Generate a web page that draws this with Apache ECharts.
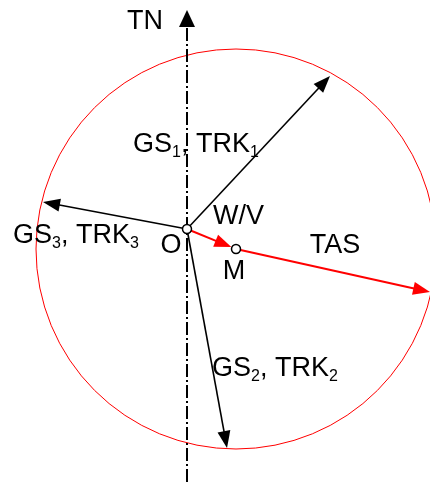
<!DOCTYPE html>
<html><head><meta charset="utf-8">
<script src="https://cdn.jsdelivr.net/npm/echarts@6/dist/echarts.min.js"></script>
<style>html,body{margin:0;padding:0;background:#fff}#c{width:430px;height:482px}</style>
</head><body><div id="c"></div>
<script>
// Diagram coordinates: origin at O, y upward, 1 unit ~ 1 px
const pointNames = ['O', 'M'];
const pointX = [0, 49];
const pointY = [0, -20];
const tasCircleCenter = [49, -20];
const tasRadius = 200;

const vectorNames = ['GS1', 'GS2', 'GS3', 'W/V', 'TAS'];
const vectorFromX = [0, 0, 0, 0, 49];
const vectorFromY = [0, 0, 0, 0, -20];
const vectorToX = [143, 40, -144, 49, 243];
const vectorToY = [153, -219, 27, -20, -63];

const northAxisX = [0, 0];
const northAxisY = [-253, 219];

const labelTexts = ['TN', 'GS{s|1}, TRK{s|1}', 'W/V', 'O', 'M', 'TAS', 'GS{s|3}, TRK{s|3}', 'GS{s|2}, TRK{s|2}'];
const labelX = [-42, -54, 26, -16, 47, 148, -174, 25];
const labelY = [207, 84, 12, -17, -43, -17, -7, -140];
const labelAlign = ['center', 'left', 'left', 'center', 'center', 'center', 'left', 'left'];

// styles
const vectorColor = { 'GS1': '#000', 'GS2': '#000', 'GS3': '#000', 'W/V': '#ff0000', 'TAS': '#ff0000' };
const vectorWidth = { 'GS1': 1.6, 'GS2': 1.6, 'GS3': 1.6, 'W/V': 2, 'TAS': 2 };
const vectorTrim = { 'GS1': 0, 'GS2': 0, 'GS3': 0, 'W/V': 5, 'TAS': 0 };
const FONT = '"Liberation Sans", Arial, sans-serif';

function arrowShapes(p1, p2, color, lw, trim, L, W, dash) {
  const dx = p2[0] - p1[0], dy = p2[1] - p1[1];
  const len = Math.hypot(dx, dy);
  const ux = dx / len, uy = dy / len;
  const tip = [p2[0] - ux * trim, p2[1] - uy * trim];
  const base = [tip[0] - ux * L, tip[1] - uy * L];
  const nx = -uy, ny = ux;
  return [
    { type: 'line', shape: { x1: p1[0], y1: p1[1], x2: base[0] + ux * 3, y2: base[1] + uy * 3 },
      style: { stroke: color, lineWidth: lw, lineDash: dash || null } },
    { type: 'polygon', shape: { points: [tip, [base[0] + nx * W, base[1] + ny * W], [base[0] - nx * W, base[1] - ny * W]] },
      style: { fill: color } }
  ];
}

const chart = echarts.init(document.getElementById('c'), null, { renderer: 'canvas' });
chart.setOption({
  animation: false,
  backgroundColor: '#fff',
  grid: { left: 0, right: 0, top: 0, bottom: 0 },
  xAxis: { type: 'value', min: -187, max: 243, show: false },
  yAxis: { type: 'value', min: -253, max: 229, show: false },
  series: [
    {
      type: 'custom', z: 1,
      data: [[tasCircleCenter[0], tasCircleCenter[1], tasRadius]],
      renderItem: function (params, api) {
        const c = api.coord([api.value(0), api.value(1)]);
        const r = api.size([api.value(2), 0])[0];
        return { type: 'circle', shape: { cx: c[0], cy: c[1], r: r }, style: { fill: null, stroke: '#ff0000', lineWidth: 1 } };
      }
    },
    {
      type: 'custom', z: 2,
      data: [[northAxisX[0], northAxisY[0], northAxisX[1], northAxisY[1]]],
      renderItem: function (params, api) {
        const p1 = api.coord([api.value(0), api.value(1)]);
        const p2 = api.coord([api.value(2), api.value(3)]);
        return { type: 'group', children: arrowShapes(p1, p2, '#000', 2, 0, 17, 8, [13, 3, 2, 3]) };
      }
    },
    {
      type: 'custom', z: 3,
      data: vectorNames.map((n, i) => [vectorFromX[i], vectorFromY[i], vectorToX[i], vectorToY[i]]),
      renderItem: function (params, api) {
        const name = vectorNames[params.dataIndex];
        const p1 = api.coord([api.value(0), api.value(1)]);
        const p2 = api.coord([api.value(2), api.value(3)]);
        return { type: 'group', children: arrowShapes(p1, p2, vectorColor[name], vectorWidth[name], vectorTrim[name], 17, 6.5) };
      }
    },
    {
      type: 'scatter', z: 4,
      symbol: 'circle', symbolSize: 9,
      itemStyle: { color: '#fff', borderColor: '#000', borderWidth: 1.5, opacity: 1 },
      data: pointNames.map((n, i) => [pointX[i], pointY[i]])
    },
    {
      type: 'custom', z: 5,
      data: labelTexts.map((t, i) => [labelX[i], labelY[i]]),
      renderItem: function (params, api) {
        const i = params.dataIndex;
        const p = api.coord([api.value(0), api.value(1)]);
        return {
          type: 'text',
          style: {
            text: labelTexts[i], x: p[0], y: p[1],
            fill: '#000', fontSize: 27, fontFamily: FONT,
            align: labelAlign[i], verticalAlign: 'middle',
            lineHeight: 32,
            rich: { s: { fontSize: 16, fontFamily: FONT, fill: '#000', verticalAlign: 'bottom', lineHeight: 12 } }
          }
        };
      }
    }
  ]
});
</script></body></html>
